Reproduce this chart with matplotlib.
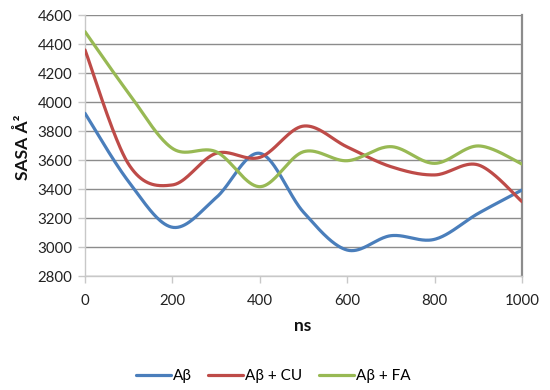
import numpy as np
import matplotlib
matplotlib.use("Agg")
import matplotlib.pyplot as plt

ns = [0, 100, 200, 300, 400, 500, 600, 700, 800, 900, 1000]
ab = [3922, 3450, 3136, 3340, 3646, 3240, 2979, 3078, 3053, 3232, 3393]
ab_cu = [4359, 3570, 3428, 3646, 3618, 3834, 3690, 3554, 3497, 3566, 3313]
ab_fa = [4485, 4060, 3680, 3657, 3416, 3657, 3595, 3692, 3577, 3697, 3572]
series_names = ["Aβ", "Aβ + CU", "Aβ + FA"]
colors = ["#4A7EBB", "#BE4B48", "#98B954"]
yticks = [2800, 3000, 3200, 3400, 3600, 3800, 4000, 4200, 4400, 4600]
xticks = [0, 200, 400, 600, 800, 1000]


def smooth(x, y, n=40):
    x = np.asarray(x, float)
    y = np.asarray(y, float)
    P = np.column_stack([x, y])
    Pp = np.vstack([P[0], P, P[-1]])
    out = []
    t = np.linspace(0, 1, n)
    for i in range(len(P) - 1):
        p0 = P[i]
        p3 = P[i + 1]
        c1 = p0 + (Pp[i + 2] - Pp[i]) / 6.0
        c2 = p3 - (Pp[i + 3] - Pp[i + 1]) / 6.0
        seg = ((1 - t) ** 3)[:, None] * p0 + (3 * (1 - t) ** 2 * t)[:, None] * c1 \
            + (3 * (1 - t) * t ** 2)[:, None] * c2 + (t ** 3)[:, None] * p3
        out.append(seg if i == 0 else seg[1:])
    s = np.vstack(out)
    return s[:, 0], s[:, 1]


plt.rcParams['font.family'] = ['Lato', 'DejaVu Sans']
fig = plt.figure(figsize=(5.5, 3.9), dpi=100)
ax = fig.add_axes([85 / 550, 1 - 276 / 390, (522 - 85) / 550, (276 - 15) / 390])

for vals, name, c in zip([ab, ab_cu, ab_fa], series_names, colors):
    sx, sy = smooth(ns, vals)
    ax.plot(sx, sy, color=c, lw=2.3, label=name, solid_capstyle='round', zorder=3)

ax.set_xlim(0, 1000)
ax.set_ylim(2800, 4600)
ax.set_yticks(yticks)
ax.set_xticks(xticks)
ax.grid(axis='y', color='#8C8C8C', lw=1.0, zorder=1)
ax.set_axisbelow(True)
ax.spines['top'].set_visible(False)
ax.spines['right'].set_color('#8C8C8C')
ax.spines['right'].set_linewidth(1.6)
ax.spines['left'].set_color('#C8C8C8')
ax.spines['bottom'].set_color('#C8C8C8')
ax.spines['left'].set_linewidth(1.0)
ax.spines['bottom'].set_linewidth(1.0)
ax.tick_params(axis='both', direction='out', length=5, color='#C8C8C8',
               labelsize=10.8, labelcolor='#222222', width=1.0)
ax.tick_params(axis='x', pad=8)
ax.tick_params(axis='y', pad=4)

fig.text(303 / 550, 1 - 326 / 390, "ns", ha='center', va='center',
         fontsize=12.5, fontweight='bold', color='#111111')
fig.text(23 / 550, 1 - 147 / 390, "SASA Å²", ha='center', va='center',
         rotation=90, fontsize=12.5, fontweight='bold', color='#111111')

handles, labels = ax.get_legend_handles_labels()
fig.legend(handles, labels, loc='center', bbox_to_anchor=(273 / 550, 1 - 376 / 390),
           ncol=3, frameon=False, fontsize=11, handlelength=2.3,
           handletextpad=0.1, columnspacing=1.1, borderpad=0)

fig.savefig("out.png", dpi=100)
